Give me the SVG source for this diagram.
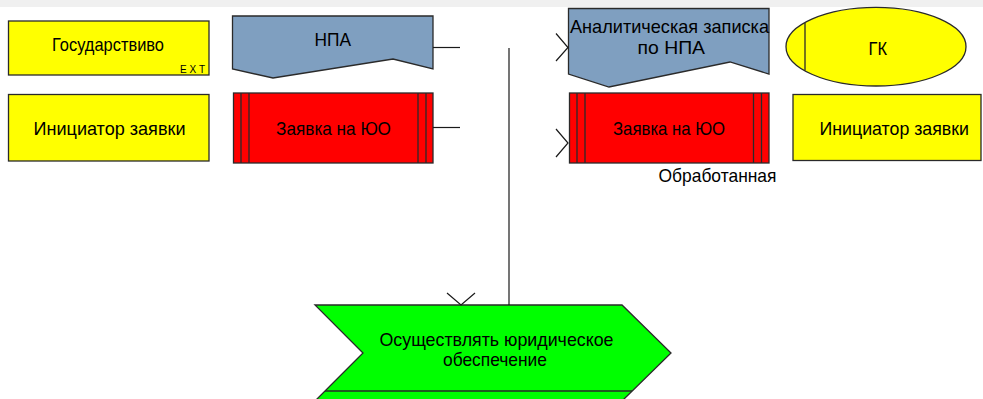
<svg xmlns="http://www.w3.org/2000/svg" width="983" height="399" viewBox="0 0 983 399">
<style>
.t{font-family:"Liberation Sans",Arial,sans-serif;font-size:19px;fill:#000;}
.s{stroke:#2a2a2a;stroke-width:1.3;}
.c{fill:none;stroke:#1a1a1a;stroke-width:1.2;}
</style>
<rect x="0" y="0" width="983" height="399" fill="#ffffff"/>
<rect x="0" y="0" width="983" height="7" fill="#f0f0f0"/>
<g id="gosudarstvo">
<rect class="s" x="8.5" y="21" width="200.5" height="54" fill="#ffff00"/>
<text class="t" x="52" y="51" textLength="112" lengthAdjust="spacingAndGlyphs">Государствиво</text>
<text x="180" y="72.5" font-family="Liberation Sans,Arial,sans-serif" font-size="10" textLength="25" lengthAdjust="spacing">EXT</text>
</g>
<g id="initiator-left">
<rect class="s" x="8.5" y="94.5" width="200.5" height="66.5" fill="#ffff00"/>
<text class="t" x="33.5" y="135" textLength="152" lengthAdjust="spacingAndGlyphs">Инициатор заявки</text>
</g>
<g id="npa">
<path class="s" d="M232.5,16 L433,16 L433,69 L393,59 L273,78 L232.5,69 Z" fill="#7f9fc0"/>
<text class="t" x="314.5" y="46" textLength="36.5" lengthAdjust="spacingAndGlyphs">НПА</text>
</g>
<g id="zayavka-left">
<rect class="s" x="233.5" y="93" width="199.5" height="70" fill="#ff0000"/>
<path class="s" d="M241,93V163M249,93V163M418,93V163M426,93V163" fill="none"/>
<text class="t" x="276" y="135" textLength="115" lengthAdjust="spacingAndGlyphs">Заявка на ЮО</text>
</g>
<g id="analit">
<path class="s" d="M568.5,8.5 L769,8.5 L769,74 L730,62 L609,87 L568.5,74 Z" fill="#7f9fc0"/>
<text class="t" x="570" y="32.5" textLength="199" lengthAdjust="spacingAndGlyphs">Аналитическая записка</text>
<text class="t" x="637.5" y="53.5" textLength="67.5" lengthAdjust="spacingAndGlyphs">по НПА</text>
</g>
<g id="gk">
<ellipse class="s" cx="876" cy="46.7" rx="90" ry="39.3" fill="#ffff00"/>
<line class="s" x1="805" y1="23" x2="805" y2="70.5"/>
<text class="t" x="868.5" y="55" textLength="18.5" lengthAdjust="spacingAndGlyphs">ГК</text>
</g>
<g id="zayavka-right">
<rect class="s" x="569.5" y="93" width="199.5" height="70" fill="#ff0000"/>
<path class="s" d="M577,93V163M585,93V163M753.5,93V163M761.5,93V163" fill="none"/>
<text class="t" x="613" y="135" textLength="112" lengthAdjust="spacingAndGlyphs">Заявка на ЮО</text>
<text class="t" x="658.5" y="182" textLength="118" lengthAdjust="spacingAndGlyphs">Обработанная</text>
</g>
<g id="initiator-right">
<rect class="s" x="793" y="94.5" width="188" height="66" fill="#ffff00"/>
<text class="t" x="819.5" y="134.5" textLength="149.5" lengthAdjust="spacingAndGlyphs">Инициатор заявки</text>
</g>
<g id="function">
<path class="s" d="M315,305 L622,305 L671,353 L622,401 L315,401 L363,353 Z" fill="#00ff00"/>
<line class="s" x1="325" y1="391" x2="632" y2="391"/>
<text class="t" x="379.5" y="346" textLength="234" lengthAdjust="spacingAndGlyphs">Осуществлять юридическое</text>
<text class="t" x="443" y="366" textLength="104" lengthAdjust="spacingAndGlyphs">обеспечение</text>
</g>
<g id="connectors">
<path class="c" d="M433,47.5H460"/>
<path class="c" d="M433,127.5H460"/>
<path class="c" stroke="#777" d="M509,48V145"/>
<path class="c" d="M509,145V305"/>
<path class="c" d="M556,33.5L568,47.5L556,61"/>
<path class="c" d="M556,129L568,143L556,157"/>
<path class="c" d="M447,293L461,305L475,293"/>
</g>
</svg>
